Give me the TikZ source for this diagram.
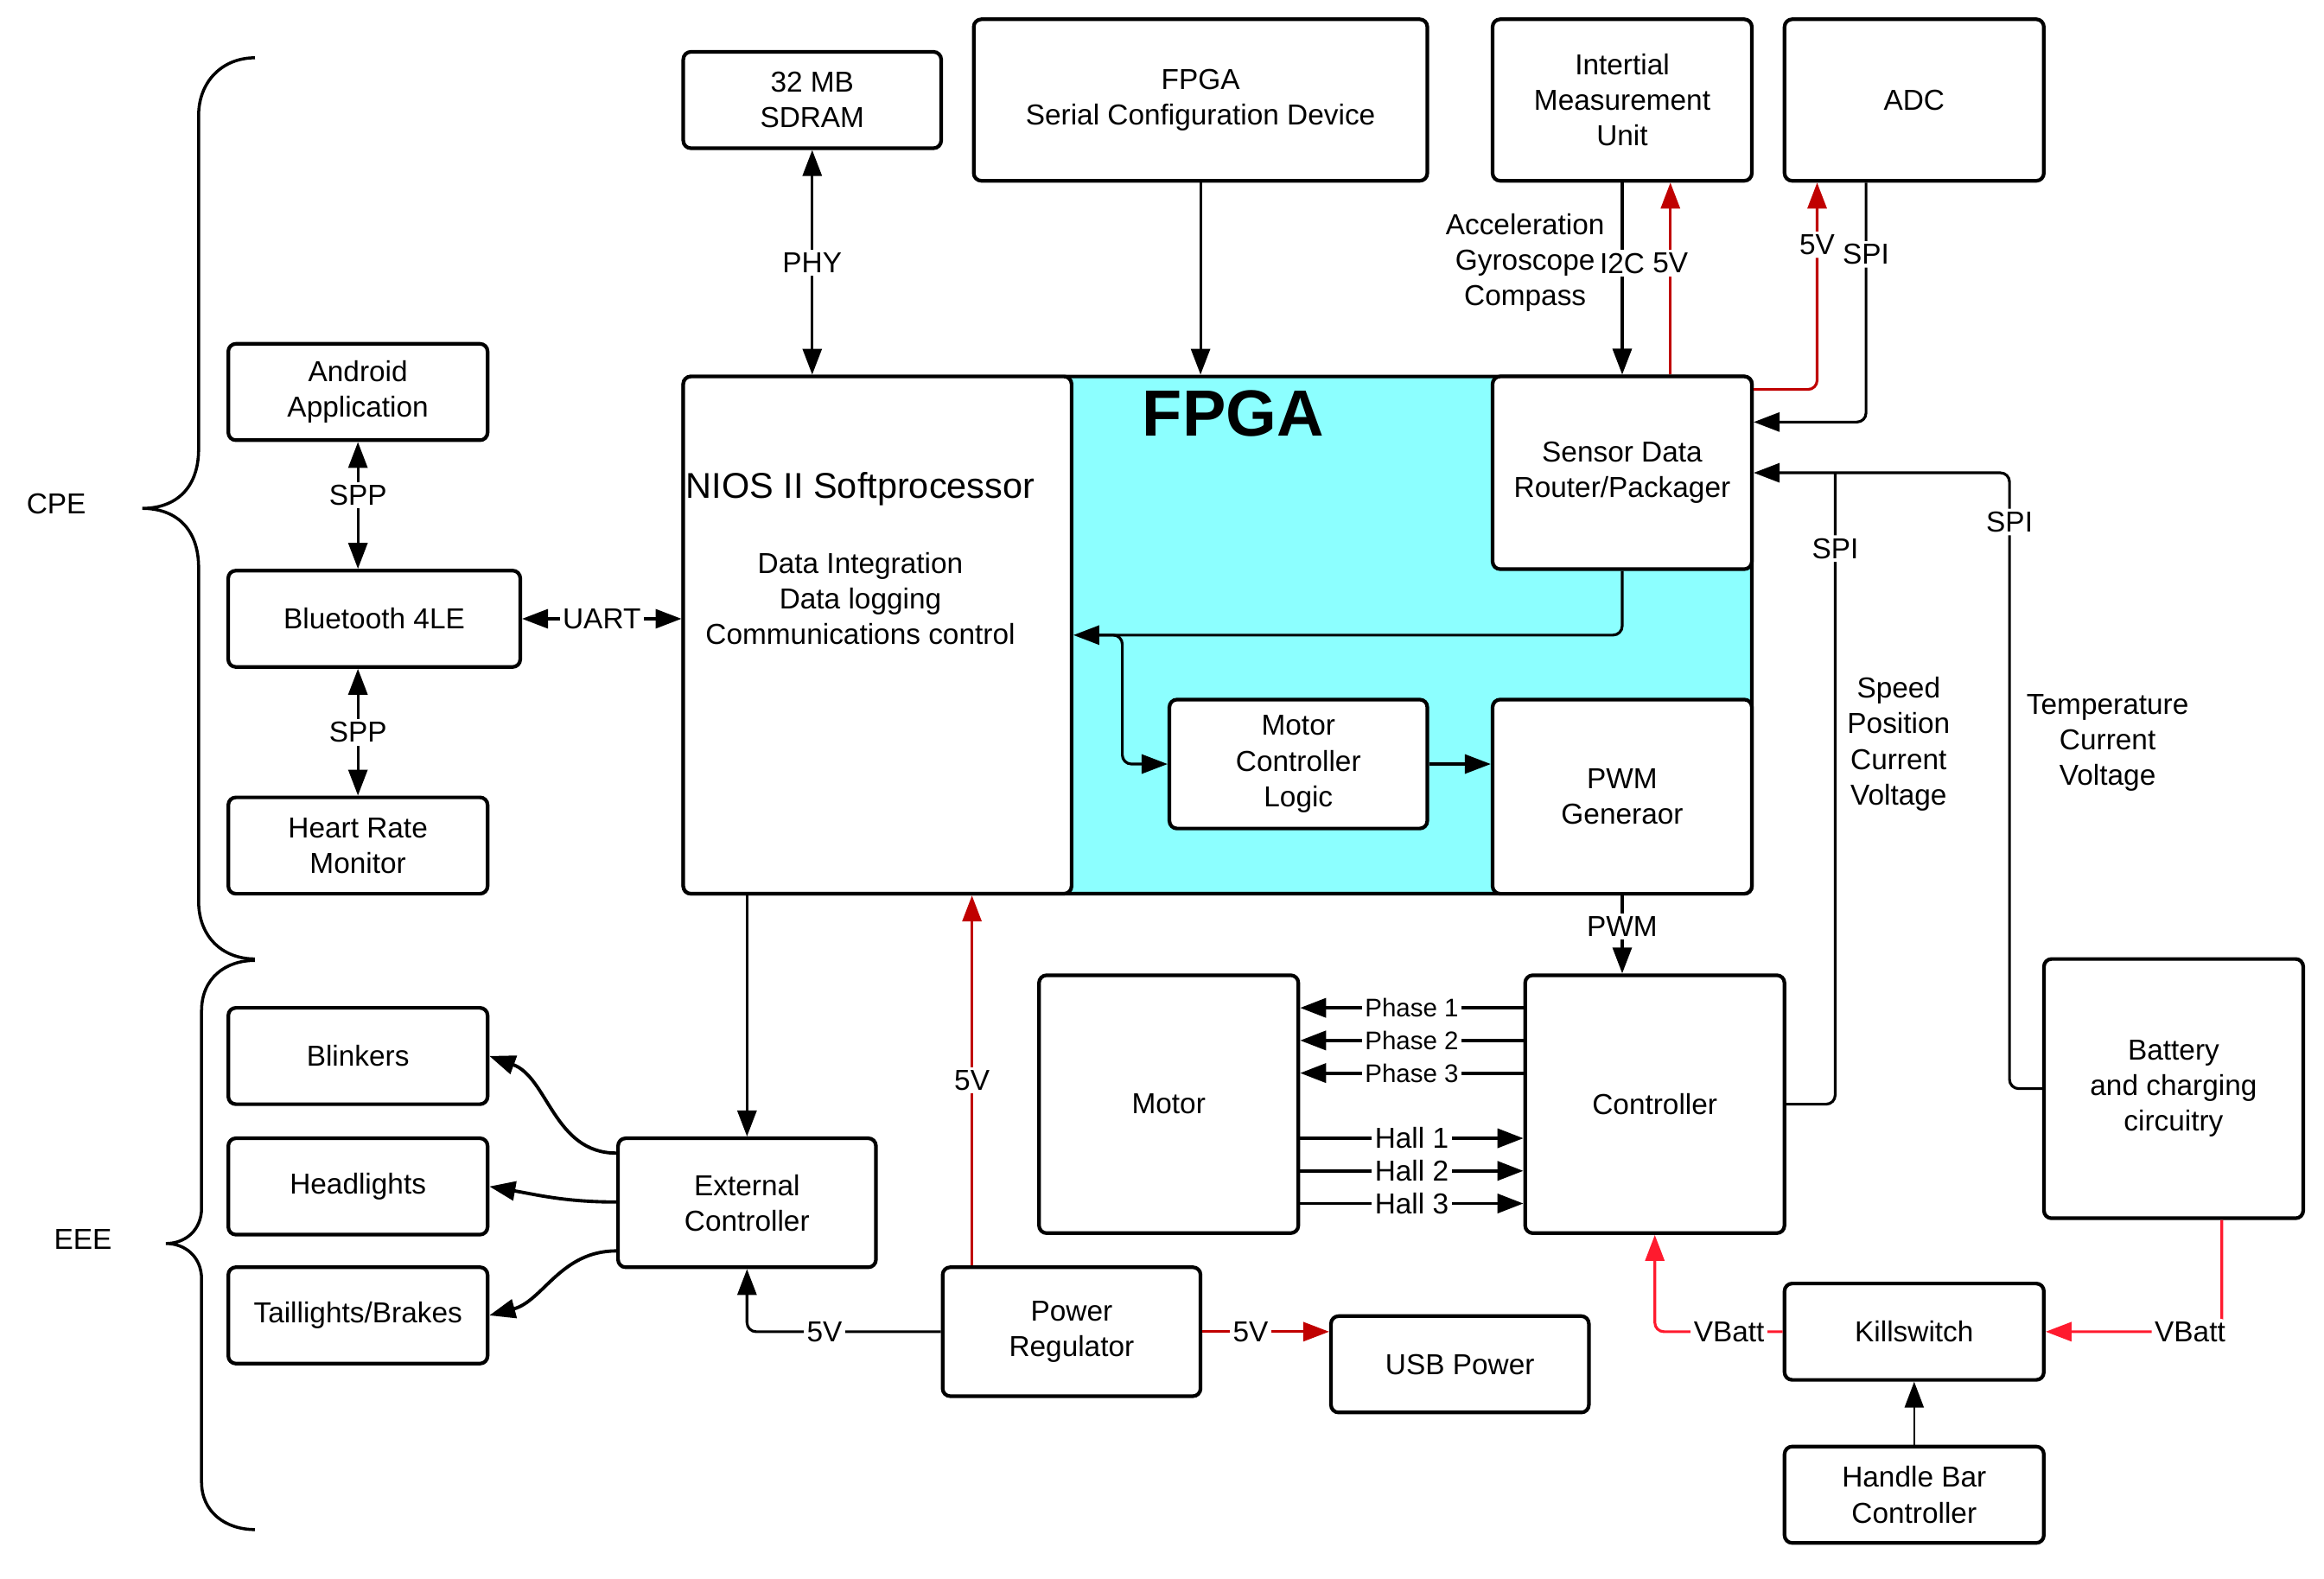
\documentclass[tikz,border=0pt]{standalone}
\usepackage{fontspec}
\setmainfont{Liberation Sans}
\usetikzlibrary{arrows.meta,positioning,calc}

\definecolor{fpgacyan}{HTML}{8CFFFF}
\definecolor{pwrred}{HTML}{C00000}
\definecolor{battred}{HTML}{FF1A2E}

\begin{document}
\begin{tikzpicture}[
        x=0.01715cm, y=-0.01715cm,
        >={Triangle[length=3mm,width=2.2mm]},
        every path/.style={line width=0.9pt},
        block/.style={draw, line width=1.2pt, rounded corners=2.5pt, fill=white, align=center, inner sep=0pt,
            minimum width=3cm, minimum height=1.115cm, font=\fontsize{9.5}{11.7}\selectfont},
        lbl/.style={fill=white, inner sep=1pt, font=\fontsize{9.5}{11.7}\selectfont},
        txt/.style={align=center, inner sep=0pt, font=\fontsize{9.5}{11.7}\selectfont},
        pwr/.style={draw=pwrred, ->},
        vbatt/.style={draw=battred, ->},
        wire/.style={rounded corners=3pt}
    ]

    \path[use as bounding box, fill=white] (0,0) rectangle (1568,1065);

    % Top row
    \node[block, minimum width=2.984cm] (sdram) at (548,67.5) {32 MB\\SDRAM};
    \node[block, minimum width=5.248cm, minimum height=1.869cm] (fpgacfg) at (810,67.5) {FPGA\\Serial Configuration Device};
    \node[block, minimum height=1.869cm] (imu) at (1094.5,67.5) {Intertial\\Measurement\\Unit};
    \node[block, minimum height=1.869cm] (adc) at (1291.5,67.5) {ADC};

    % Bluetooth side
    \node[block] (android) at (241.5,264.5) {Android\\Application};
    \node[block, minimum width=3.379cm] (bt) at (252.5,417.5) {Bluetooth 4LE};
    \node[block] (hrm) at (241.5,570.5) {Heart Rate\\Monitor};

    % FPGA
    \node[block, fill=fpgacyan, minimum width=12.365cm, minimum height=5.985cm] (fpga) at (821.5,428.5) {};
    \node[block, minimum width=4.493cm, minimum height=5.985cm] (nios) at (592,428.5) {};
    \node[block, minimum height=2.23cm] (sensor) at (1094.5,319) {Sensor Data\\Router/Packager};
    \node[block, minimum width=2.984cm, minimum height=1.492cm] (mcl) at (876,515.5) {Motor\\Controller\\Logic};
    \node[block, minimum height=2.247cm] (pwm) at (1094.5,537.5) {PWM\\Generaor};
    \node[inner sep=0pt, font=\fontsize{21.5}{26}\selectfont\bfseries] (fpgalbl) at (832,279) {FPGA};
    \node[txt, font=\fontsize{11.8}{14}\selectfont] (niostitle) at (580.5,330) {NIOS II Softprocessor};
    \node[txt] (niostasks) at (580.5,404) {Data Integration\\Data logging\\Communications control};

    % Lights, power and drive
    \node[block] (blink) at (241.5,712.5) {Blinkers};
    \node[block] (head) at (241.5,800.5) {Headlights};
    \node[block] (tail) at (241.5,887.5) {Taillights/Brakes};
    \node[block, minimum width=2.984cm, minimum height=1.492cm] (ext) at (504,811.5) {External\\Controller};
    \node[block, minimum width=2.984cm, minimum height=1.492cm] (preg) at (723,898.5) {Power\\Regulator};
    \node[block, minimum width=2.984cm] (usb) at (985,920.5) {USB Power};
    \node[block, minimum height=2.984cm] (motor) at (788.5,745) {Motor};
    \node[block, minimum height=2.984cm] (ctrl) at (1116.5,745) {Controller};
    \node[block, minimum height=3cm] (batt) at (1466.5,734.5) {Battery\\and charging\\circuitry};
    \node[block] (kill) at (1291.5,898.5) {Killswitch};
    \node[block] (hbc) at (1291.5,1008.5) {Handle Bar\\Controller};

    % Notes
    \node[txt] (imudata) at (1029,177) {Acceleration\\Gyroscope\\Compass};
    \node[txt] (ctrldata) at (1281,502) {Speed\\Position\\Current\\Voltage};
    \node[txt] (battdata) at (1422,501) {Temperature\\Current\\Voltage};
    \node[txt] (cpe) at (38,340) {CPE};
    \node[txt] (eee) at (56,836) {EEE};

    % Braces
    \draw[line width=1pt] (172,39) .. controls (150,39) and (134,55) .. (134,78) -- (134,303)
        .. controls (134,330) and (118,343) .. (96,343)
        .. controls (118,343) and (134,356) .. (134,383) -- (134,608)
        .. controls (134,632) and (150,647) .. (172,647);
    \draw[line width=1pt] (172,648) .. controls (152,648) and (136,660) .. (136,682) -- (136,815)
        .. controls (136,830) and (125,839) .. (112,839)
        .. controls (125,839) and (136,848) .. (136,863) -- (136,1000)
        .. controls (136,1020) and (152,1032) .. (172,1032);

    % Edges
    \draw[<->] (android.south) -- node[lbl, pos=0.42]{SPP} (android.south |- bt.north);
    \draw[<->] (hrm.north) -- node[lbl]{SPP} (hrm.north |- bt.south);
    \draw[<->] (bt.east) -- node[lbl]{UART} (bt.east -| nios.west);

    \draw[<->] (sdram.south) -- node[lbl]{PHY} (sdram.south |- nios.north);
    \draw[->] (fpgacfg.south) -- (fpgacfg.south |- fpga.north);
    \draw[->] (imu.south) -- node[lbl, pos=0.42]{I2C} (sensor.north);
    \draw[pwr] ($(sensor.north)+(32.5,0)$) coordinate (imupwr) -- node[lbl, pos=0.58]{5V} (imupwr |- imu.south);
    \draw[pwr, wire] ($(sensor.north east)+(0,10)$) -| node[lbl, pos=0.85]{5V} ($(adc.south)+(-65.5,0)$);
    \draw[->, wire] ($(adc.south)+(-32.5,0)$) |- node[lbl, pos=0.15]{SPI} ($(sensor.north east)+(0,32)$);
    \draw[->, wire] (batt.west) -- ++(-22,0) |- node[lbl, pos=0.46]{SPI} (sensor.east);
    \draw[wire] (ctrl.east) -| node[lbl, pos=0.94]{SPI} ($(sensor.east)+(55,0)$);

    \draw[->, wire] (sensor.south) |- (nios.east);
    \coordinate (split) at ($(nios.east)+(33,0)$);
    \draw[->, wire] ($(nios.east)+(15,0)$) -- (split) |- (mcl.west);
    \draw[->] (mcl.east) -- (mcl.east -| pwm.west);
    \draw[->] (pwm.south) -- node[lbl, pos=0.4]{PWM} (pwm.south |- ctrl.north);

    \foreach \i/\y in {1/680, 2/702, 3/724}
        \draw[<-, line width=1.1pt] (motor.east |- 0,\y) -- node[lbl, font=\fontsize{8.4}{10}\selectfont]{Phase \i} (ctrl.west |- 0,\y);
    \foreach \i/\y in {1/768, 2/790, 3/812}
        \draw[->, line width=1.1pt] (motor.east |- 0,\y) -- node[lbl]{Hall \i} (ctrl.west |- 0,\y);

    \draw[->] (nios.south -| ext.north) -- (ext.north);
    \draw[pwr] ($(preg.north west)+(21,0)$) coordinate (niospwr) -- node[lbl]{5V} (niospwr |- nios.south);
    \draw[->, wire] (preg.west) -| node[lbl, pos=0.3]{5V} (ext.south);
    \draw[pwr] (preg.east) -- node[lbl, pos=0.38]{5V} (preg.east -| usb.west);
    \draw[vbatt, wire] (kill.west) -| node[lbl, pos=0.21]{VBatt} (ctrl.south);
    \draw[vbatt, wire] ($(batt.south)+(32.5,0)$) |- node[lbl, pos=0.59]{VBatt} (kill.east);
    \draw[->, line width=0.7pt] (hbc.north) -- (kill.south);

    \draw[->, line width=1.1pt] (ext.west |- 0,778) to[out=180, in=-20] (blink.east);
    \draw[->, line width=1.1pt] (ext.west |- 0,811) to[out=180, in=-10] (head.east);
    \draw[->, line width=1.1pt] (ext.west |- 0,844) to[out=180, in=15] (tail.east);

\end{tikzpicture}
\end{document}
